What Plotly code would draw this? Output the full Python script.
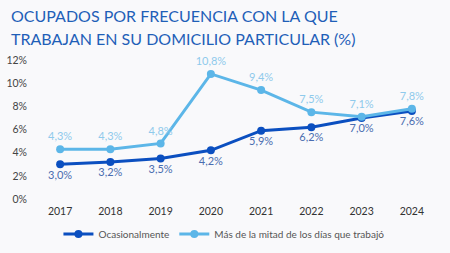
import plotly.graph_objects as go

years = ["2017", "2018", "2019", "2020", "2021", "2022", "2023", "2024"]
ocasional = [3.0, 3.2, 3.5, 4.2, 5.9, 6.2, 7.0, 7.6]
mitad = [4.3, 4.3, 4.8, 10.8, 9.4, 7.5, 7.1, 7.8]
y_ticks = [0, 2, 4, 6, 8, 10, 12]
title_lines = ["OCUPADOS POR FRECUENCIA CON LA QUE", "TRABAJAN EN SU DOMICILIO PARTICULAR (%)"]

def fmt(v):
    return f"{v:.1f}%".replace(".", ",")

fig = go.Figure()
fig.add_trace(go.Scatter(
    x=years, y=ocasional, name="Ocasionalmente", mode="lines+markers+text",
    line=dict(color="#0b4fc0", width=3), marker=dict(size=8, color="#0b4fc0"),
    text=[fmt(v) for v in ocasional], textposition="bottom center", cliponaxis=False,
    textfont=dict(color="#4a6db0", size=11, family="Lato"),
))
fig.add_trace(go.Scatter(
    x=years, y=mitad, name="Más de la mitad de los días que trabajó", mode="lines+markers+text",
    line=dict(color="#5cb6e8", width=3), marker=dict(size=8, color="#5cb6e8"),
    text=[fmt(v) for v in mitad], textposition="top center", cliponaxis=False,
    textfont=dict(color="#8fcaec", size=11, family="Lato"),
))

fig.update_layout(
    width=450, height=253,
    paper_bgcolor="#f9f9fb", plot_bgcolor="#f9f9fb",
    margin=dict(l=35, r=13, t=60, b=54),
    xaxis=dict(type="category", range=[-0.5, 7.5], showgrid=False, showline=False, zeroline=False,
               tickfont=dict(family="Lato", size=10.5, color="#333333"), ticks="",
               ticklabelstandoff=4, automargin=False),
    yaxis=dict(range=[0, 12], tickvals=y_ticks, ticktext=[f"{v}%" for v in y_ticks],
               showgrid=False, zeroline=False, showline=False, automargin=False,
               ticklabelstandoff=7,
               tickfont=dict(family="Lato", size=10.5, color="#444444")),
    legend=dict(orientation="h", x=0.47, xanchor="center", yref="container", y=0.075, yanchor="middle",
                font=dict(family="Lato", size=10, color="#555555"), bgcolor="rgba(0,0,0,0)",
                itemwidth=30),
    showlegend=True,
)
for i, line in enumerate(title_lines):
    fig.add_annotation(text=line, xref="paper", yref="paper", x=0, xanchor="left", xshift=-26,
                       y=1, yanchor="middle", yshift=45 - 23 * i, showarrow=False,
                       font=dict(family="Lato", size=16, color="#1f5fb8"))
fig.write_html("out.html")
